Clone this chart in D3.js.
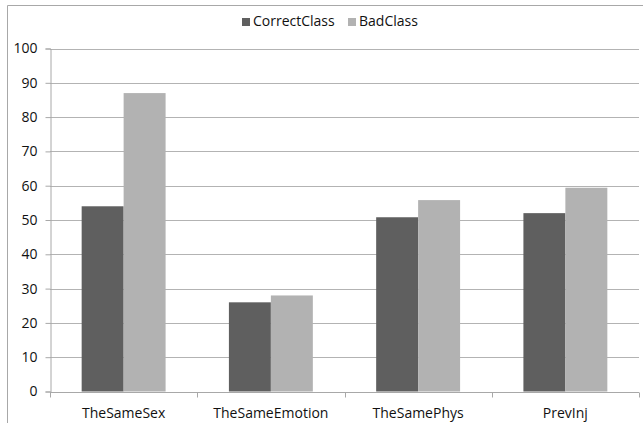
<!DOCTYPE html>
<html>
<head>
<meta charset="utf-8">
<script src="https://cdn.jsdelivr.net/npm/d3@7"></script>
<style>
  html, body { margin: 0; padding: 0; background: #fff; }
  svg { display: block; font-family: "Open Sans", "Noto Sans", sans-serif; }
</style>
</head>
<body>
<svg id="chart" width="643" height="423"></svg>
<script>
// Chart data
const categories = ["TheSameSex", "TheSameEmotion", "TheSamePhys", "PrevInj"];
const seriesNames = ["CorrectClass", "BadClass"];
const correctClass = [54, 26, 50.8, 52];
const badClass = [87, 28, 55.8, 59.4];
const yTicks = [0, 10, 20, 30, 40, 50, 60, 70, 80, 90, 100];
const seriesColors = ["#5f5f5f", "#b2b2b2"];

const svg = d3.select("#chart");
const W = 643, H = 423;
const plot = { left: 50, right: 639, top: 48.5, bottom: 391.5 };

// Outer frame (left and top edges visible)
svg.append("path")
  .attr("d", `M7.5,${H} V5.5 H${W}`)
  .attr("fill", "none")
  .attr("stroke", "#a8a8a8")
  .attr("stroke-width", 1);

const x0 = d3.scaleBand()
  .domain(categories)
  .range([plot.left, plot.right])
  .paddingInner(0.43)
  .paddingOuter(0.215);

const x1 = d3.scaleBand()
  .domain(seriesNames)
  .range([0, x0.bandwidth()]);

const y = d3.scaleLinear().domain([0, 100]).range([plot.bottom, plot.top]);

// Gridlines
svg.append("g")
  .selectAll("line")
  .data(yTicks.filter(d => d > 0))
  .join("line")
  .attr("x1", plot.left)
  .attr("x2", plot.right)
  .attr("y1", d => Math.round(y(d)) + 0.5)
  .attr("y2", d => Math.round(y(d)) + 0.5)
  .attr("stroke", "#b3b3b3")
  .attr("stroke-width", 1);

// Bars, one group per category
const rows = categories.map((c, i) => ({ cat: c, vals: [correctClass[i], badClass[i]] }));
svg.append("g")
  .selectAll("g")
  .data(rows)
  .join("g")
  .attr("transform", d => `translate(${x0(d.cat)},0)`)
  .selectAll("rect")
  .data(d => d.vals.map((v, j) => ({ v, s: seriesNames[j], j })))
  .join("rect")
  .attr("x", d => x1(d.s))
  .attr("width", x1.bandwidth())
  .attr("y", d => y(d.v))
  .attr("height", d => y(0) - y(d.v))
  .attr("fill", d => seriesColors[d.j]);

// Y axis
const yAxis = d3.axisLeft(y).tickValues(yTicks).tickSize(5).tickPadding(8);
const gy = svg.append("g")
  .attr("transform", `translate(${plot.left + 0.5},0)`)
  .call(yAxis);
gy.select(".domain").attr("stroke", "#a8a8a8");
gy.selectAll(".tick line").attr("stroke", "#a8a8a8");
gy.selectAll(".tick text")
  .attr("font-size", 14)
  .attr("fill", "#111")
  .style("font-family", '"Open Sans", "Noto Sans", sans-serif');

// X axis with boundary ticks between categories
const gx = svg.append("g").attr("transform", `translate(0,${Math.round(plot.bottom) + 0.5})`);
gx.append("line")
  .attr("x1", plot.left).attr("x2", plot.right)
  .attr("stroke", "#a8a8a8");
const bounds = categories.map(c => x0(c) - x0.step() * x0.paddingInner() / 2).concat([plot.right]);
gx.selectAll("line.b")
  .data(bounds)
  .join("line")
  .attr("class", "b")
  .attr("x1", d => Math.round(d) + 0.5).attr("x2", d => Math.round(d) + 0.5)
  .attr("y1", 0).attr("y2", 5)
  .attr("stroke", "#a8a8a8");
gx.selectAll("text")
  .data(categories)
  .join("text")
  .attr("x", d => x0(d) + x0.bandwidth() / 2)
  .attr("y", 25)
  .attr("text-anchor", "middle")
  .attr("font-size", 14)
  .attr("fill", "#111")
  .text(d => d);

// Legend
const legend = svg.append("g").attr("transform", "translate(242,26)");
const items = [{ name: seriesNames[0], x: 0 }, { name: seriesNames[1], x: 106 }];
items.forEach((it, i) => {
  legend.append("rect")
    .attr("x", it.x).attr("y", -8)
    .attr("width", 8).attr("height", 8)
    .attr("fill", seriesColors[i]);
  legend.append("text")
    .attr("x", it.x + 11).attr("y", 0)
    .attr("font-size", 14)
    .attr("fill", "#111")
    .text(it.name);
});
</script>
</body>
</html>
